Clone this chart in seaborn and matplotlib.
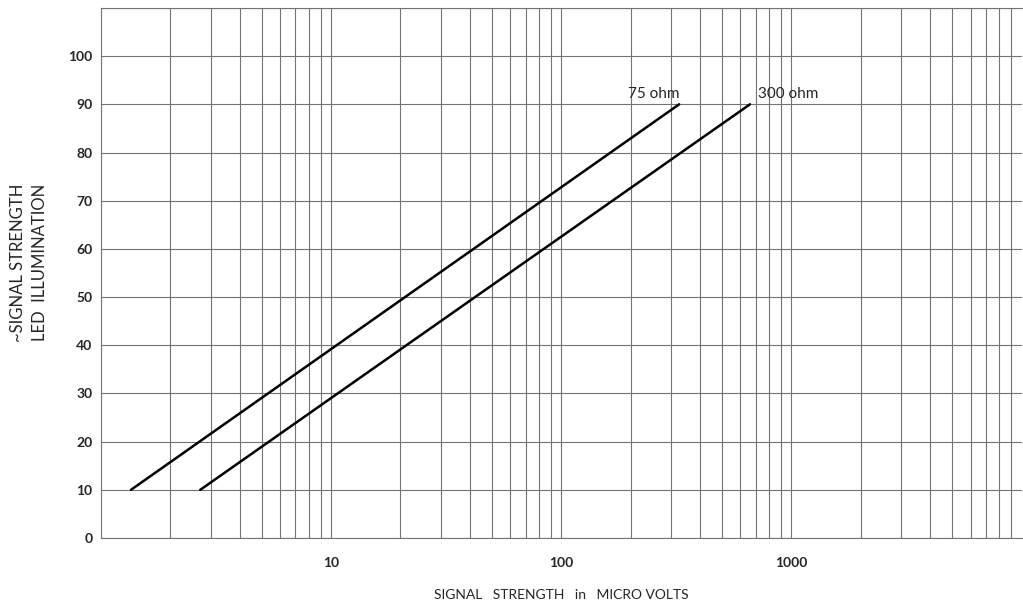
import numpy as np
import pandas as pd
import matplotlib
matplotlib.use("Agg")
import matplotlib.pyplot as plt
import seaborn as sns

# データ
illum = [10, 90]
volts_75 = [1.35, 325]
volts_300 = [2.7, 660]
series_names = ["75 ohm", "300 ohm"]
x_ticks = [10, 100, 1000]
y_ticks = [0, 10, 20, 30, 40, 50, 60, 70, 80, 90, 100]

df = pd.DataFrame({
    "volts": volts_75 + volts_300,
    "illum": illum + illum,
    "cable": [series_names[0]] * 2 + [series_names[1]] * 2,
})

sns.set_style("white")
plt.rcParams["font.family"] = ["Lato", "DejaVu Sans"]

fig = plt.figure(figsize=(10.23, 6.10), dpi=100)
ax = fig.add_axes([0.0987, 0.118, 0.9, 0.869])

sns.lineplot(data=df, x="volts", y="illum", units="cable", estimator=None,
             color="black", lw=1.8, ax=ax, legend=False)

ax.set_xscale("log")
ax.set_xlim(1, 10000)
ax.set_ylim(0, 110)

# 方眼紙のような格子
ax.set_yticks(y_ticks + [110])
ax.set_yticklabels([str(v) for v in y_ticks] + [""])
ax.set_xticks(x_ticks)
ax.set_xticklabels([str(v) for v in x_ticks])
ax.grid(True, which="both", axis="x", color="0.45", lw=0.8)
ax.grid(True, which="major", axis="y", color="0.45", lw=0.8)
ax.tick_params(axis="both", which="both", length=0, labelsize=10)
ax.tick_params(axis="x", pad=14)
ax.tick_params(axis="y", pad=6)
for lab in ax.get_xticklabels() + ax.get_yticklabels():
    lab.set_fontweight("bold")

for s in ["right"]:
    ax.spines[s].set_visible(False)
for s in ["left", "bottom", "top"]:
    ax.spines[s].set_color("0.45")
    ax.spines[s].set_linewidth(0.8)

# 線のラベル
ax.text(volts_75[1], illum[1] + 0.6, series_names[0], ha="right", va="bottom",
        fontsize=11)
ax.text(volts_300[1] * 1.08, illum[1] + 0.6, series_names[1], ha="left",
        va="bottom", fontsize=11)

ax.set_xlabel("SIGNAL   STRENGTH   in   MICRO VOLTS", fontsize=10, labelpad=14)
ax.set_ylabel("~SIGNAL STRENGTH\nLED  ILLUMINATION", fontsize=12,
              linespacing=1.4)
ax.yaxis.set_label_coords(-0.058, 0.52)

fig.savefig("out.png", dpi=100)
